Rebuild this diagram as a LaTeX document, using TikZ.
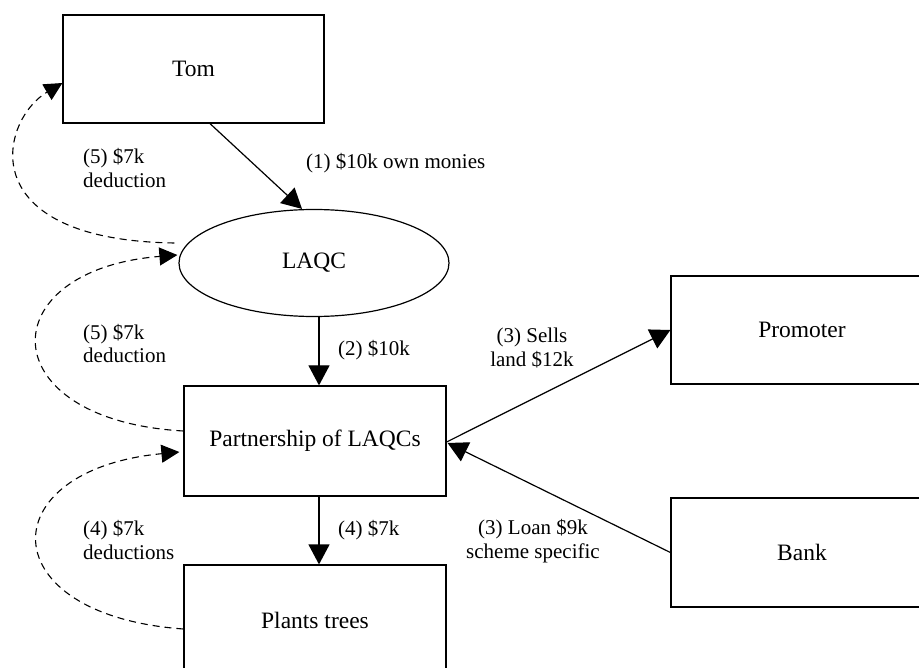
\documentclass[tikz,border=0pt]{standalone}
\usepackage{fontspec}
\setmainfont{Liberation Serif}
\usetikzlibrary{arrows.meta,calc,shapes.geometric}
\begin{document}
\begin{tikzpicture}[x=1pt,y=-1pt,
  box/.style={draw,line width=1.2pt,rectangle,inner sep=0pt,font=\fontsize{23.5}{27}\selectfont},
  oval/.style={draw,line width=1.2pt,ellipse,inner sep=0pt,font=\fontsize{23.5}{27}\selectfont},
  lbl/.style={font=\fontsize{21}{24}\selectfont,inner sep=0pt},
  arr/.style={line width=1.2pt,-{Triangle[length=20pt,width=21pt]}},
  darr/.style={line width=1.1pt,dash pattern=on 7pt off 5pt,-{Triangle[length=18pt,width=18pt]}}]
\useasboundingbox (0,0) rectangle (919,668);
\clip (0,0) rectangle (919,668);
% nodes
\node[box,minimum width=261pt,minimum height=108pt] (tom) at (193.5,69) {Tom};
\node[oval,minimum width=270pt,minimum height=107pt] (laqc) at (314,263) {LAQC};
\node[box,minimum width=262pt,minimum height=110pt] (part) at (315,441) {Partnership of LAQCs};
\node[box,minimum width=262pt,minimum height=110pt] (plants) at (315,620) {Plants trees};
\node[box,minimum width=262pt,minimum height=108pt] (prom) at (802,330) {Promoter};
\node[box,minimum width=262pt,minimum height=109pt] (bank) at (802,552.5) {Bank};
% solid connectors
\draw[arr] ($(tom.south)+(16.5,0)$) -- ($(laqc.north)+(-12,0)$);
\draw[arr] ($(laqc.south)+(5,0)$) -- ($(part.north)+(4,0)$);
\draw[arr] ($(part.south)+(4,0)$) -- ($(plants.north)+(4,0)$);
\draw[arr] ($(part.east)+(0,1)$) -- (prom.west);
\draw[arr] (bank.west) -- ($(part.east)+(1,2)$);
% dashed connectors
\draw[darr] ($(plants.west)+(0,9)$) .. controls (-10,615) and (-10,470) .. ($(part.west)+(-4,11)$);
\draw[darr] ($(part.west)+(0,-10)$) .. controls (-10,420) and (-10,270) .. ($(laqc.west)+(-1,-8)$);
\draw[darr] ($(laqc.west)+(-4,-20)$) .. controls (-30,240) and (0,120) .. ($(tom.west)+(0,14)$);
% labels
\node[lbl,anchor=west] (l1) at (306,163) {(1) \$10k own monies};
\node[lbl,anchor=west] (l2) at (338,350) {(2) \$10k};
\node[lbl,anchor=west] (l4) at (338,530) {(4) \$7k};
\node[lbl,align=left,anchor=west] (l5a) at (83,168.5) {(5) \$7k\\deduction};
\node[lbl,align=left,anchor=west] (l5b) at (83,343.5) {(5) \$7k\\deduction};
\node[lbl,align=left,anchor=west] (l4b) at (83,540) {(4) \$7k\\deductions};
\node[lbl,align=center] (l3a) at (532,348.5) {(3) Sells\\land \$12k};
\node[lbl,align=center] (l3b) at (533,541) {(3) Loan \$9k\\scheme specific};
\end{tikzpicture}
\end{document}
